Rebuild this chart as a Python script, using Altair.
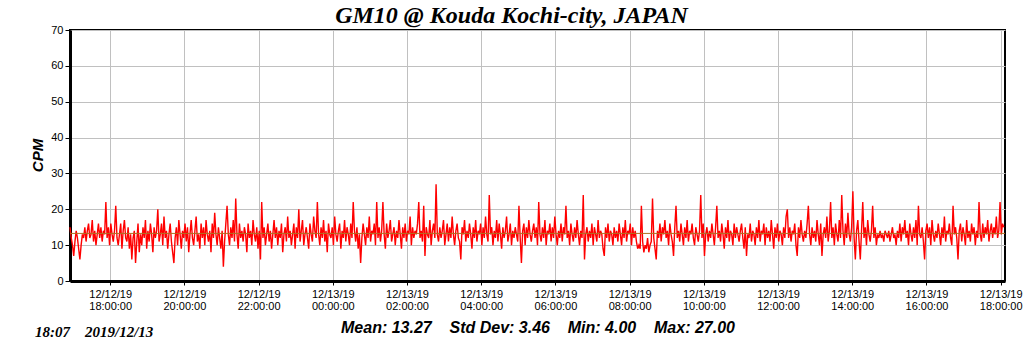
import altair as alt
import pandas as pd

NB = "\u00a0"
TITLE = "GM10 @ Kouda Kochi-city, JAPAN"
STATS = f"Mean: 13.27{NB*4}Std Dev: 3.46{NB*4}Min: 4.00{NB*4}Max: 27.00"
STAMP = f"18:07{NB*4}2019/12/13"
MEAN = 13.27
START = "2019-12-12 16:55"
STEP_MIN = 2

CPM = [
    15,12,10,7,11,14,12,9,6,10,13,12,15,11,14,16,12,13,17,11,
    14,10,13,16,12,15,11,14,13,22,12,15,10,16,13,11,14,21,12,10,
    13,16,9,14,17,12,11,15,9,13,6,12,14,5,11,16,8,13,10,15,
    12,17,9,14,11,16,13,8,15,12,14,20,11,13,16,10,18,12,14,9,
    13,16,11,8,5,12,15,10,17,13,9,14,12,16,11,15,8,13,17,12,
    10,14,18,11,13,9,16,12,15,10,17,13,11,14,8,16,12,19,13,10,
    15,12,9,14,4,11,16,21,13,10,15,12,17,11,23,13,9,16,12,14,
    11,15,13,8,16,12,14,10,17,13,11,15,9,14,6,22,12,15,10,13,
    16,11,14,9,13,17,12,15,10,14,12,16,8,13,15,11,18,12,14,10,
    13,16,9,15,12,20,11,14,17,10,13,15,12,9,16,13,11,18,14,12,
    22,13,10,15,12,17,11,14,8,16,13,12,15,10,18,13,11,14,16,9,
    14,12,17,11,15,13,10,16,12,22,14,11,15,9,13,5,12,16,13,10,
    15,12,18,11,14,13,16,10,22,12,15,11,14,22,13,9,16,12,14,17,
    11,13,15,10,14,12,17,13,9,15,12,16,11,14,13,18,10,15,12,14,
    13,16,22,12,14,11,21,7,15,13,12,17,10,14,16,12,27,13,11,15,
    12,14,17,10,13,16,11,15,12,18,13,10,14,16,12,11,6,15,13,17,
    11,14,12,16,13,9,15,12,17,11,14,13,16,10,15,12,18,13,11,24,
    13,15,10,14,12,17,11,16,13,9,15,12,14,18,11,13,16,10,14,12,
    15,13,11,21,12,5,14,16,10,15,12,17,13,11,14,16,12,15,10,22,
    13,11,15,12,17,10,14,13,16,11,15,12,18,13,10,14,12,16,11,15,
    13,21,12,14,10,16,13,11,15,12,17,13,10,14,12,24,6,13,15,11,
    14,12,16,10,15,13,11,17,12,14,13,9,7,15,12,16,11,14,13,10,
    15,12,14,11,16,13,10,15,12,17,11,14,13,16,10,15,12,14,11,9,
    10,9,21,11,8,10,9,12,8,10,11,23,12,9,6,14,12,16,11,15,
    13,17,12,14,10,16,13,11,7,15,21,12,14,11,16,13,10,15,12,17,
    11,14,13,16,12,10,15,13,11,14,24,12,16,7,13,15,11,14,12,16,
    13,10,15,21,12,14,11,16,13,9,15,12,17,11,14,13,10,16,12,15,
    13,11,14,16,12,9,15,7,13,12,16,11,14,13,10,15,12,17,11,14,
    13,16,10,15,12,14,11,17,13,9,15,12,16,11,14,13,10,15,12,18,
    20,12,15,11,14,13,16,10,7,15,12,17,13,11,14,12,16,21,13,10,
    15,12,14,11,17,13,10,16,7,13,15,12,18,11,14,22,12,15,10,16,
    13,11,17,12,24,14,10,16,12,19,13,11,15,25,12,6,14,17,11,6,
    14,22,12,15,10,17,13,11,14,21,12,15,10,13,12,14,12,13,11,14,
    13,12,14,11,13,15,12,13,10,14,12,16,11,15,13,17,12,14,10,16,
    13,11,15,12,17,10,21,13,12,15,11,6,14,16,12,15,10,17,13,11,
    14,12,16,13,10,15,12,18,11,14,13,16,12,10,21,13,15,12,6,14,
    16,11,15,13,10,17,12,14,11,16,13,15,10,14,12,22,13,11,16,12,
    15,13,17,11,14,16,12,15,13,18,12,14,22,13,16,15,
]

times = pd.date_range(START, periods=len(CPM), freq=f"{STEP_MIN}min")
df = pd.DataFrame({"time": times, "cpm": CPM})

tick_vals = [alt.DateTime(year=2019, month=12, date=12 + (18 + 2 * k) // 24,
                          hours=(18 + 2 * k) % 24, minutes=0) for k in range(13)]
x_dom = [alt.DateTime(year=2019, month=12, date=12, hours=16, minutes=55),
         alt.DateTime(year=2019, month=12, date=13, hours=18, minutes=7)]

SANS = "Liberation Sans"
SERIF = "Liberation Serif"

x_enc = alt.X(
    "time:T",
    scale=alt.Scale(domain=x_dom),
    axis=alt.Axis(
        values=tick_vals,
        labelExpr="[timeFormat(datum.value, '%m/%d/%y'), timeFormat(datum.value, '%H:%M:%S')]",
        labelFont=SANS, labelFontSize=11, labelColor="black", labelLineHeight=12,
        labelPadding=3, labelFlush=False, labelOverlap=False,
        tickColor="black", tickSize=4, tickWidth=1,
        domainColor="black", domainWidth=3,
        gridColor="#c0c0c0", gridWidth=1,
        title=STATS, titleFont=SANS, titleFontSize=16, titleFontWeight="bold",
        titleFontStyle="italic", titleColor="black", titleY=46, titleBaseline="middle",
    ),
)
y_enc = alt.Y(
    "cpm:Q",
    scale=alt.Scale(domain=[0, 70], nice=False),
    axis=alt.Axis(
        values=list(range(0, 71, 10)),
        labelFont=SANS, labelFontSize=11, labelColor="black", labelPadding=2,
        labelOverlap=False,
        tickColor="black", tickSize=5, tickWidth=1,
        domainColor="black", domainWidth=3,
        gridColor="#c0c0c0", gridWidth=1,
        title="CPM", titleFont=SANS, titleFontSize=15, titleFontWeight="bold",
        titleFontStyle="italic", titleColor="black", titleAngle=-90,
        titleX=-33, titleY=125, titleAlign="center", titleBaseline="middle",
    ),
)

line = alt.Chart(df).mark_line(color="#ff0000", strokeWidth=1.4).encode(x=x_enc, y=y_enc)

mean_rule = alt.Chart(pd.DataFrame({"cpm": [MEAN]})).mark_rule(
    color="#b07020", strokeWidth=1
).encode(y=y_enc)

stamp = alt.Chart(pd.DataFrame({"t": [STAMP]})).mark_text(
    font=SERIF, fontSize=15, fontWeight="bold", fontStyle="italic",
    align="left", baseline="middle", color="black"
).encode(text="t:N", x=alt.value(-35), y=alt.value(302))

chart = alt.layer(line, mean_rule, stamp).properties(
    width=935, height=251,
    title=alt.TitleParams(TITLE, font=SERIF, fontSize=24, fontWeight="bold",
                          fontStyle="italic", color="black", anchor="middle",
                          frame="group", dx=-26, offset=-4),
    autosize=alt.AutoSizeParams(type="none"),
    padding={"left": 70, "top": 30, "right": 19, "bottom": 70},
    background="white",
).configure_view(stroke="black", strokeWidth=2)

chart.save("out.html", embed_options={"renderer": "svg", "actions": False})
